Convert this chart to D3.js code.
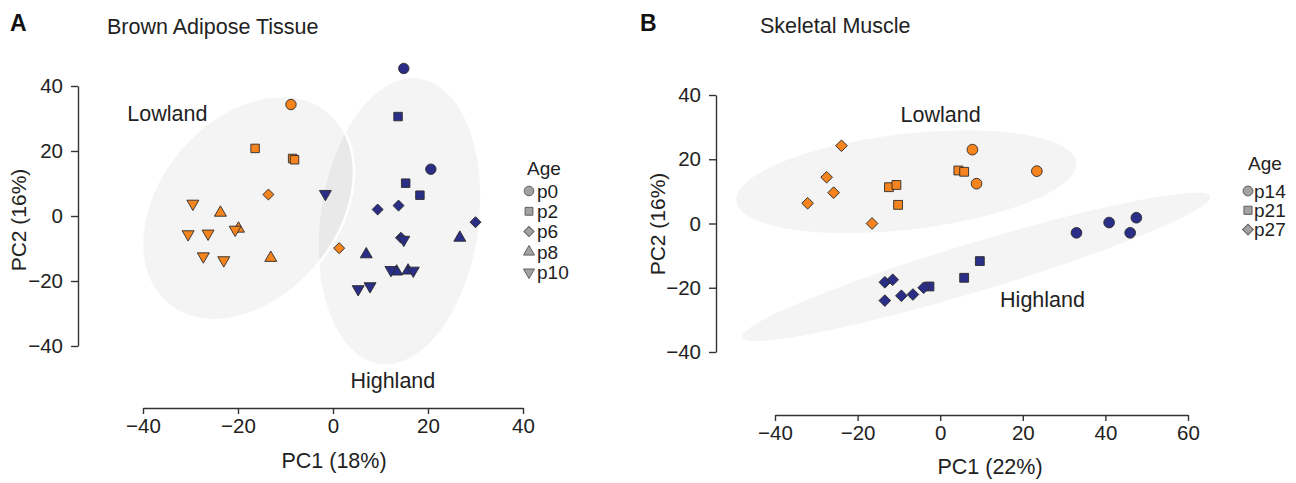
<!DOCTYPE html>
<html>
<head>
<meta charset="utf-8">
<script src="https://cdn.jsdelivr.net/npm/d3@7"></script>
<style>
  body { margin: 0; background: #fff; }
  svg { display: block; font-family: 'Liberation Sans', Arial, Helvetica, sans-serif; }
</style>
</head>
<body>
<svg id="chart" width="1296" height="483"></svg>
<script>
// Brown adipose tissue: [PC1, PC2, age]
const batLowland = [
  [-8.85, 34.3, 'p0'],
  [-16.4, 20.8, 'p2'], [-8.5, 17.7, 'p2'], [-8.1, 17.3, 'p2'],
  [-13.6, 6.6, 'p6'], [1.3, -9.9, 'p6'],
  [-23.7, 1.0, 'p8'], [-19.9, -3.9, 'p8'], [-13.1, -12.9, 'p8'],
  [-29.5, 3.8, 'p10'], [-30.5, -5.6, 'p10'], [-26.3, -5.4, 'p10'],
  [-20.6, -4.2, 'p10'], [-27.3, -12.4, 'p10'], [-23.0, -13.6, 'p10']
];
const batHighland = [
  [14.9, 45.4, 'p0'], [20.6, 14.4, 'p0'],
  [13.7, 30.6, 'p2'], [15.3, 10.1, 'p2'], [18.3, 6.4, 'p2'],
  [9.4, 2.0, 'p6'], [13.8, 3.2, 'p6'], [30.0, -1.9, 'p6'], [14.3, -6.7, 'p6'],
  [7.0, -11.8, 'p8'], [26.7, -6.7, 'p8'], [13.4, -17.1, 'p8'], [15.8, -16.8, 'p8'],
  [-1.6, 6.8, 'p10'], [14.9, -7.3, 'p10'], [12.2, -16.6, 'p10'],
  [16.9, -16.8, 'p10'], [5.3, -22.5, 'p10'], [7.8, -21.6, 'p10']
];
const batAges = ['p0', 'p2', 'p6', 'p8', 'p10'];
// group ellipses: centre, spread along PC1 / PC2, correlation
const batEllipses = [
  { group: 'Highland', cx: 14.0, cy: -1.6, sx: 17.0, sy: 44.0, r: 0.17 },
  { group: 'Lowland', cx: -17.9, cy: 2.45, sx: 22.3, sy: 34.45, r: 0.32 }
];

// Skeletal muscle: [PC1, PC2, age]
const skmLowland = [
  [-23.9, 24.2, 'p27'], [-27.5, 14.4, 'p27'], [-25.8, 9.6, 'p27'], [-32.1, 6.3, 'p27'], [-16.5, 0.0, 'p27'],
  [-12.4, 11.3, 'p21'], [-10.6, 12.0, 'p21'], [-10.2, 5.8, 'p21'], [4.4, 16.5, 'p21'], [5.8, 16.1, 'p21'],
  [7.8, 23.0, 'p14'], [8.8, 12.4, 'p14'], [23.4, 16.3, 'p14']
];
const skmHighland = [
  [33.0, -2.9, 'p14'], [40.9, 0.3, 'p14'], [46.0, -2.9, 'p14'], [47.5, 1.8, 'p14'],
  [9.6, -11.7, 'p21'], [5.8, -16.9, 'p21'], [-2.6, -19.6, 'p21'],
  [-13.4, -18.3, 'p27'], [-11.5, -17.5, 'p27'], [-13.4, -24.0, 'p27'],
  [-9.4, -22.5, 'p27'], [-6.6, -22.1, 'p27'], [-4.0, -20.0, 'p27']
];
const skmAges = ['p14', 'p21', 'p27'];
const skmEllipses = [
  { group: 'Lowland', cx: -8.2, cy: 13.0, sx: 41.2, sy: 16.0, r: 0.35 },
  { group: 'Highland', cx: 8.7, cy: -13.5, sx: 56.7, sy: 23.1, r: 0.94 }
];

const batXTicks = [-40, -20, 0, 20, 40];
const skmXTicks = [-40, -20, 0, 20, 40, 60];
const pc2Ticks = [-40, -20, 0, 20, 40];

const groupColor = { Lowland: '#f5841f', Highland: '#2b2e86' };

class PcaPlot {

  constructor(_config) {
    this.config = _config;
  }

  initVis() {
    let vis = this;
    let c = vis.config;

    vis.g = d3.select(c.parentElement).append('g');

    vis.x = d3.scaleLinear().domain(c.xDomain).range(c.xRange);
    vis.y = d3.scaleLinear().domain(c.yDomain).range(c.yRange);

    // Panel letter and title
    vis.g.append('text')
        .attr('x', c.letterPos[0])
        .attr('y', c.letterPos[1])
        .attr('font-size', 23)
        .attr('font-weight', 'bold')
        .attr('fill', '#111')
        .text(c.letter);

    vis.g.append('text')
        .attr('x', c.titlePos[0])
        .attr('y', c.titlePos[1])
        .attr('font-size', 21.5)
        .attr('fill', '#222')
        .text(c.title);

    // Axes
    vis.xAxisG = vis.g.append('g')
        .attr('transform', `translate(0,${c.xAxisY})`)
        .call(d3.axisBottom(vis.x).tickValues(c.xTicks).tickSize(6).tickSizeOuter(0).tickPadding(4));

    vis.yAxisG = vis.g.append('g')
        .attr('transform', `translate(${c.yAxisX},0)`)
        .call(d3.axisLeft(vis.y).tickValues(c.yTicks).tickSize(7).tickSizeOuter(0).tickPadding(8));

    [vis.xAxisG, vis.yAxisG].forEach(a => {
      a.attr('font-size', 20.5).attr('font-family', null);
      a.selectAll('path, line').attr('stroke', '#333').attr('stroke-width', 1.4);
      a.selectAll('text').attr('fill', '#222');
    });

    vis.g.append('text')
        .attr('x', c.xLabelPos[0])
        .attr('y', c.xLabelPos[1])
        .attr('text-anchor', 'middle')
        .attr('font-size', 21.5)
        .attr('fill', '#222')
        .text(c.xLabel);

    vis.g.append('text')
        .attr('transform', `translate(${c.yLabelPos[0]},${c.yLabelPos[1]}) rotate(-90)`)
        .attr('text-anchor', 'middle')
        .attr('font-size', 21)
        .attr('fill', '#222')
        .text(c.yLabel);

    vis.render();
  }

  symbolPath(age, size) {
    let shape = this.config.shapes[this.config.ages.indexOf(age)];
    let type = shape === 'circle' ? d3.symbolCircle
      : (shape === 'square' || shape === 'diamond') ? d3.symbolSquare
      : d3.symbolTriangle;
    return d3.symbol(type, size * this.config.sizes[shape])();
  }

  symbolRotate(age) {
    let shape = this.config.shapes[this.config.ages.indexOf(age)];
    return shape === 'diamond' ? 45 : shape === 'down' ? 180 : 0;
  }

  render() {
    let vis = this;
    let c = vis.config;

    // Group ellipses
    let line = d3.line().curve(d3.curveLinearClosed);
    vis.g.append('g').selectAll('path')
        .data(c.ellipses)
      .join('path')
        .attr('d', e => {
          let k = Math.sqrt(1 - e.r * e.r);
          let pts = d3.range(0, 360, 2).map(a => {
            let t = a * Math.PI / 180;
            return [vis.x(e.cx + e.sx * Math.cos(t)),
                    vis.y(e.cy + e.sy * (e.r * Math.cos(t) + k * Math.sin(t)))];
          });
          return line(pts);
        })
        .attr('fill', '#000')
        .attr('fill-opacity', 0.042)
        .attr('stroke', e => e.group === c.strokedGroup ? '#fff' : 'none')
        .attr('stroke-width', 2.5);

    // Group labels
    vis.g.append('g').selectAll('text')
        .data(c.groupLabels)
      .join('text')
        .attr('x', d => vis.x(d.x))
        .attr('y', d => vis.y(d.y))
        .attr('text-anchor', d => d.anchor)
        .attr('font-size', 21.5)
        .attr('fill', '#222')
        .text(d => d.text);

    // Points
    let points = [];
    c.groups.forEach(gr => gr.data.forEach(d => points.push({ pc1: d[0], pc2: d[1], age: d[2], group: gr.name })));

    vis.g.append('g').selectAll('path')
        .data(points)
      .join('path')
        .attr('d', d => vis.symbolPath(d.age, 1))
        .attr('transform', d => `translate(${vis.x(d.pc1)},${vis.y(d.pc2)}) rotate(${vis.symbolRotate(d.age)})`)
        .attr('fill', d => groupColor[d.group])
        .attr('stroke', '#2a2a2a')
        .attr('stroke-width', 0.9);

    // Legend
    let lg = vis.g.append('g')
        .attr('transform', `translate(${c.legendPos[0]},${c.legendPos[1]})`);

    lg.append('text')
        .attr('x', 0)
        .attr('y', 0)
        .attr('font-size', 19)
        .attr('fill', '#222')
        .text('Age');

    let items = lg.selectAll('.item')
        .data(c.ages)
      .join('g')
        .attr('class', 'item')
        .attr('transform', (d, i) => `translate(0,${c.legendFirst + i * c.legendStep})`);

    items.append('path')
        .attr('d', d => vis.symbolPath(d, 0.85))
        .attr('transform', d => `translate(${c.legendSymbolX},0) rotate(${vis.symbolRotate(d)})`)
        .attr('fill', '#a2a2a2')
        .attr('stroke', '#606060')
        .attr('stroke-width', 1);

    items.append('text')
        .attr('x', c.legendTextX)
        .attr('y', 0)
        .attr('dy', '0.36em')
        .attr('font-size', 19)
        .attr('fill', '#222')
        .text(d => d);
  }
}

const bat = new PcaPlot({
  parentElement: '#chart',
  letter: 'A', letterPos: [10, 31],
  title: 'Brown Adipose Tissue', titlePos: [107, 34],
  xDomain: [-40, 40], xRange: [143, 523], xTicks: batXTicks, xAxisY: 408,
  yDomain: [-40, 40], yRange: [346, 86], yTicks: pc2Ticks, yAxisX: 78,
  xLabel: 'PC1 (18%)', xLabelPos: [334, 468],
  yLabel: 'PC2 (16%)', yLabelPos: [26, 220],
  groups: [{ name: 'Lowland', data: batLowland }, { name: 'Highland', data: batHighland }],
  ellipses: batEllipses, strokedGroup: 'Lowland',
  groupLabels: [
    { text: 'Lowland', x: -43.3, y: 29.3, anchor: 'start' },
    { text: 'Highland', x: 12.6, y: -52.8, anchor: 'middle' }
  ],
  ages: batAges, shapes: ['circle', 'square', 'diamond', 'up', 'down'],
  sizes: { circle: 85, square: 72, diamond: 60, up: 62, down: 62 },
  legendPos: [527, 175], legendFirst: 16, legendStep: 20.3, legendSymbolX: 2, legendTextX: 10
});
bat.initVis();

const skm = new PcaPlot({
  parentElement: '#chart',
  letter: 'B', letterPos: [640, 31],
  title: 'Skeletal Muscle', titlePos: [760, 33],
  xDomain: [-40, 60], xRange: [775, 1188], xTicks: skmXTicks, xAxisY: 415,
  yDomain: [-40, 40], yRange: [352, 95], yTicks: pc2Ticks, yAxisX: 716,
  xLabel: 'PC1 (22%)', xLabelPos: [990, 474],
  yLabel: 'PC2 (16%)', yLabelPos: [665, 224],
  groups: [{ name: 'Lowland', data: skmLowland }, { name: 'Highland', data: skmHighland }],
  ellipses: skmEllipses, strokedGroup: null,
  groupLabels: [
    { text: 'Lowland', x: -9.6, y: 31.7, anchor: 'start' },
    { text: 'Highland', x: 14.5, y: -25.9, anchor: 'start' }
  ],
  ages: skmAges, shapes: ['circle', 'square', 'diamond'],
  sizes: { circle: 90, square: 78, diamond: 68 },
  legendPos: [1248, 170], legendFirst: 21, legendStep: 19.3, legendSymbolX: 0, legendTextX: 6
});
skm.initVis();
</script>
</body>
</html>
